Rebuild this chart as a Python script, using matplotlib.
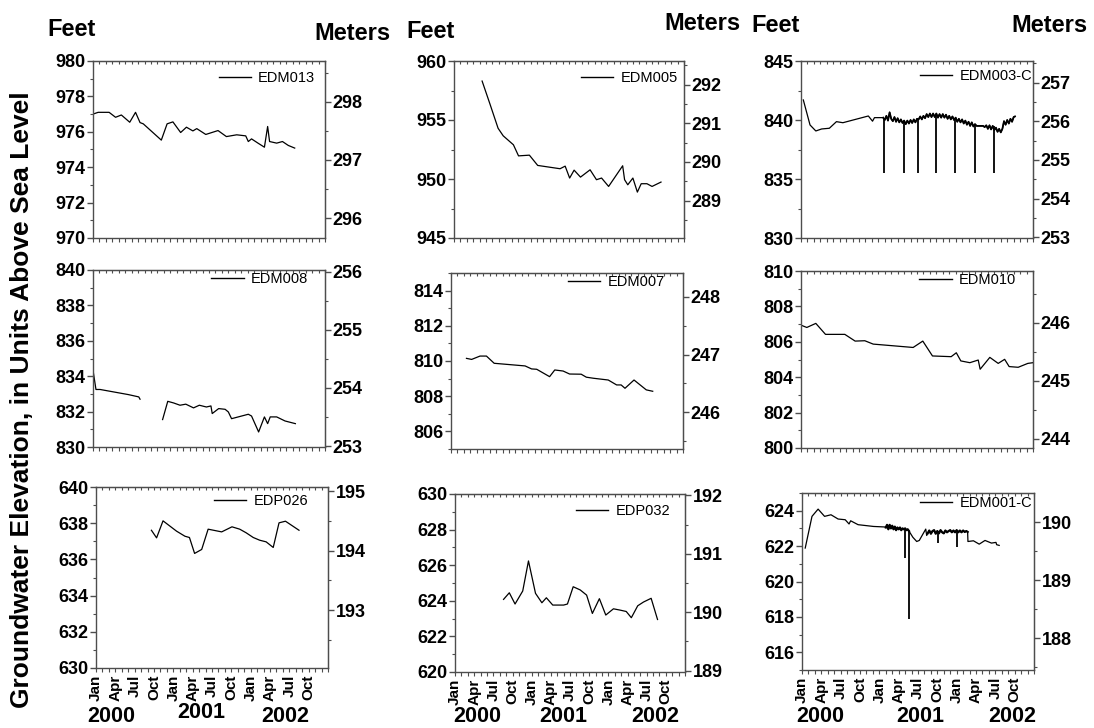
import numpy as np
import matplotlib
matplotlib.use("Agg")
import matplotlib.pyplot as plt
from matplotlib.ticker import MultipleLocator, FixedLocator, NullFormatter
from matplotlib.lines import Line2D

plt.rcParams['font.family'] = ['Liberation Sans', 'DejaVu Sans']
plt.rcParams['font.weight'] = 'bold'

FT_PER_M = 3.28084
nan = np.nan

# time axis: months since Jan 2000
month_names = ['Jan', 'Apr', 'Jul', 'Oct'] * 3
month_pos = list(range(0, 36, 3))
years = ['2000', '2001', '2002']

# ---- EDM013 ----
edm013_t = [0, 0.8, 2.5, 3.5, 4.4, 5.7, 6.6, 7.3, 7.8, 10.6, 11.5, 12.4, 13.6, 14.5, 15.5,
            16.1, 17.5, 19.4, 20.7, 22.3, 23.7, 24.1, 24.6, 25.6, 26.6, 27.1, 27.4, 28.5,
            29.4, 30.3, 31.3]
edm013_ft = [977.0, 977.1, 977.1, 976.82, 976.95, 976.54, 977.1, 976.52, 976.45, 975.53,
             976.45, 976.56, 975.96, 976.26, 976.05, 976.18, 975.85, 976.07, 975.73, 975.83,
             975.77, 975.45, 975.6, 975.36, 975.13, 976.3, 975.45, 975.36, 975.45, 975.23,
             975.08]

# ---- EDM005 ----
edm005_t = [4.4, 5.6, 6.9, 7.7, 9.3, 10.1, 11.8, 13.1, 16.6, 17.4, 18.1, 18.8, 19.8, 21.3,
            22.3, 23.1, 24.2, 26.4, 26.7, 27.2, 28.0, 28.7, 29.3, 30.2, 31.0, 32.4]
edm005_ft = [958.3, 956.4, 954.3, 953.66, 952.9, 951.96, 952.02, 951.15, 950.87, 951.09,
             950.08, 950.75, 950.16, 950.78, 949.94, 950.08, 949.37, 951.12, 949.94, 949.51,
             950.08, 948.89, 949.6, 949.6, 949.37, 949.74]

# ---- EDM003-C (manual readings, then continuous logger) ----
edm003_manual_t = [0.36, 1.4, 2.3, 3.2, 4.4, 5.5, 6.5, 10.45, 11.1, 11.4, 12.5]
edm003_manual_ft = [841.7, 839.58, 839.07, 839.24, 839.3, 839.86, 839.77, 840.34, 839.9,
                    840.2, 840.2]
edm003_logger_t = [12.75, 13.0, 13.25, 13.5, 13.75, 14.0, 14.25, 14.5, 14.75, 15.0, 15.25,
                   15.5, 15.75, 16.0, 16.25, 16.5, 16.75, 17.0, 17.25, 17.5, 17.75, 18.0,
                   18.25, 18.5, 18.75, 19.0, 19.25, 19.5, 19.75, 20.0, 20.25, 20.5, 20.75,
                   21.0, 21.25, 21.5, 21.75, 22.0, 22.25, 22.5, 22.75, 23.0, 23.25, 23.5,
                   23.75, 24.0, 24.25, 24.5, 24.75, 25.0, 25.25, 25.5, 25.75, 26.0, 26.25,
                   26.5, 26.75, 27.0, 27.25, 27.5, 27.75, 28.0, 28.25, 28.5, 28.75, 29.0,
                   29.25, 29.5, 29.75, 30.0, 30.25, 30.5, 30.75, 31.0, 31.25, 31.5, 31.75,
                   32.0, 32.25, 32.5, 32.75, 33.0, 33.2]
edm003_logger_ft = [840.2, 840.0, 840.35, 839.95, 840.65, 840.1, 839.9, 840.25, 839.85, 840.15,
                    839.8, 840.05, 839.75, 839.95, 839.65, 839.95, 839.7, 840.0, 839.75, 840.05,
                    839.8, 840.1, 840.05, 840.3, 840.05, 840.35, 840.15, 840.5, 840.25, 840.55,
                    840.25, 840.55, 840.25, 840.55, 840.2, 840.5, 840.2, 840.5, 840.2, 840.45,
                    840.1, 840.35, 840.05, 840.3, 840.0, 840.2, 839.85, 840.1, 839.8,
                    840.05, 839.7, 839.95, 839.6, 839.85, 839.5, 839.8, 839.45, 839.65, 839.5,
                    839.5, 839.5, 839.5, 839.5, 839.4, 839.55, 839.25, 839.55, 839.2, 839.5,
                    839.15, 839.35, 839.0, 839.25, 838.95, 839.25, 839.9, 839.6, 840.0, 839.7,
                    840.1, 839.85, 840.25, 840.3]
edm003_spike_t = [12.9, 16.0, 18.1, 20.9, 23.9, 27.0, 29.9]
edm003_spike_top = [840.2, 839.9, 840.05, 840.4, 840.2, 839.6, 839.45]
edm003_spike_low = [835.5, 835.5, 835.5, 835.5, 835.5, 835.5, 835.5]

# ---- EDM008 ----
edm008_t = [0, 0.46, 1.1, 5.5, 7.1, 7.3, 9.0, 10.8, 11.6, 12.5, 13.5, 14.4, 15.6, 16.5, 17.6,
            18.3, 18.5, 19.5, 20.5, 21.0, 21.5, 24.1, 24.6, 25.7, 26.6, 27.1, 27.5, 28.5,
            29.8, 31.4]
edm008_ft = [834.34, 833.25, 833.25, 832.96, 832.83, 832.7, nan, 831.55, 832.58, 832.49,
             832.36, 832.42, 832.21, 832.36, 832.26, 832.32, 831.89, 832.17, 832.13, 831.98,
             831.6, 831.85, 831.75, 830.85, 831.7, 831.32, 831.7, 831.7, 831.47, 831.32]

# ---- EDM007 ----
edm007_t = [2.4, 3.2, 4.5, 5.5, 6.7, 11.5, 12.5, 13.3, 15.3, 16.1, 17.4, 18.4, 20.2, 21.0,
            22.1, 24.4, 25.7, 26.4, 27.0, 28.4, 30.3, 31.3]
edm007_ft = [810.15, 810.09, 810.28, 810.28, 809.87, 809.72, 809.55, 809.53, 809.11, 809.49,
             809.43, 809.26, 809.25, 809.08, 809.02, 808.92, 808.64, 808.64, 808.45, 808.92,
             808.36, 808.28]

# ---- EDM010 ----
edm010_t = [0, 0.9, 2.3, 3.8, 6.8, 8.4, 9.9, 11.2, 17.4, 18.9, 20.4, 23.3, 24.1, 24.8, 26.2,
            27.5, 27.8, 29.3, 30.6, 31.6, 32.3, 33.7, 35.2, 36.0]
edm010_ft = [806.94, 806.81, 807.04, 806.42, 806.42, 806.04, 806.06, 805.87, 805.68, 806.04,
             805.2, 805.16, 805.38, 804.92, 804.82, 804.97, 804.45, 805.12, 804.78, 805.01,
             804.6, 804.56, 804.78, 804.82]

# ---- EDP026 ----
edp026_t = [8.6, 9.4, 10.4, 12.5, 13.8, 14.5, 15.3, 16.4, 17.4, 19.5, 21.1, 22.3, 23.3, 24.4,
            25.4, 26.4, 27.5, 28.4, 29.4, 31.5]
edp026_ft = [637.61, 637.19, 638.13, 637.56, 637.28, 637.21, 636.33, 636.55, 637.67, 637.52,
             637.8, 637.67, 637.47, 637.21, 637.06, 636.97, 636.66, 638.02, 638.11, 637.61]

# ---- EDP032 ----
edp032_t = [7.6, 8.5, 9.4, 10.6, 11.5, 12.6, 13.6, 14.3, 15.3, 17.0, 17.6, 18.5, 19.6, 20.6,
            21.5, 22.6, 23.6, 24.8, 25.8, 26.8, 27.6, 28.6, 29.5, 30.7, 31.7]
edp032_ft = [624.08, 624.45, 623.82, 624.55, 626.24, 624.42, 623.89, 624.17, 623.76, 623.76,
             623.82, 624.79, 624.61, 624.32, 623.29, 624.12, 623.2, 623.55, 623.48, 623.4,
             623.05, 623.72, 623.93, 624.14, 622.95]

# ---- EDM001-C ----
edm001_manual_t = [0.5, 1.55, 2.5, 3.5, 4.5, 5.6, 6.7, 7.3, 7.55, 8.7, 11.1, 12.9]
edm001_manual_ft = [621.89, 623.68, 624.09, 623.68, 623.77, 623.53, 623.49, 623.25, 623.43,
                    623.21, 623.11, 623.08]
edm001_logger1_t = [13.0, 13.2, 13.4, 13.6, 13.8, 14.0, 14.2, 14.4, 14.6, 14.8, 15.0, 15.2,
                    15.4, 15.6, 15.8, 16.0, 16.2, 16.4, 16.6]
edm001_logger1_ft = [623.05, 623.2, 622.95, 623.2, 623.0, 623.15, 622.95, 623.1, 622.9,
                     623.05, 622.95, 623.05, 622.9, 623.0, 622.95, 623.0, 622.9, 622.95,
                     622.85]
edm001_mid_t = [17.2, 17.8, 18.2, 18.7, 19.2, 19.35]
edm001_mid_ft = [622.5, 622.26, 622.32, 622.64, 622.96, 622.6]
edm001_logger2_t = [19.5, 19.75, 20.0, 20.25, 20.5, 20.75, 21.0, 21.25, 21.5, 21.75, 22.0,
                    22.25, 22.5, 22.75, 23.0, 23.25, 23.5, 23.75, 24.0, 24.25, 24.5, 24.75,
                    25.0, 25.25, 25.5, 25.7]
edm001_logger2_ft = [622.72, 622.88, 622.7, 622.85, 622.9, 622.7, 622.85, 622.72, 622.9,
                     622.78, 622.72, 622.88, 622.78, 622.85, 622.9, 622.78, 622.88, 622.78,
                     622.9, 622.78, 622.88, 622.78, 622.88, 622.8, 622.85, 622.8]
edm001_end_t = [25.75, 26.6, 27.5, 28.4, 29.4, 30.1, 30.2, 30.6]
edm001_end_ft = [622.26, 622.3, 622.11, 622.32, 622.17, 622.21, 622.08, 622.04]
edm001_spike_t = [16.0, 16.6, 21.1, 24.0]
edm001_spike_top = [623.0, 622.85, 622.8, 622.85]
edm001_spike_low = [621.3, 617.87, 622.2, 621.94]

W, H = 1094, 728
fig = plt.figure(figsize=(W / 100, H / 100), dpi=100)

FRAME = '#4d4d4d'
TICK_FS = 13


def make_axes(box):
    x0, y0, x1, y1 = box
    return fig.add_axes([x0 / W, 1 - y1 / H, (x1 - x0) / W, (y1 - y0) / H])


def style_axes(ax, ylim, ystep, mticks, bottom_labels):
    ax.set_xlim(0, 36)
    ax.set_ylim(*ylim)
    ax.yaxis.set_major_locator(MultipleLocator(ystep))
    ax.yaxis.set_minor_locator(MultipleLocator(ystep / 2))
    ax.tick_params(axis='y', which='major', direction='out', length=4, width=1,
                   color=FRAME, labelsize=TICK_FS, pad=1.5)
    ax.tick_params(axis='y', which='minor', direction='out', length=2.5, width=0.8,
                   color=FRAME)
    for lbl in ax.get_yticklabels():
        lbl.set_fontweight('bold')
    ax.xaxis.set_major_locator(FixedLocator(month_pos))
    ax.xaxis.set_minor_locator(MultipleLocator(1))
    ax.tick_params(axis='x', which='both', direction='out', length=3, width=0.8,
                   color=FRAME, top=False)
    if bottom_labels:
        ax.set_xticklabels(month_names, rotation=90, fontsize=11, fontweight='bold')
        ax.tick_params(axis='x', which='major', pad=2)
    else:
        ax.xaxis.set_major_formatter(NullFormatter())
    for sp in ax.spines.values():
        sp.set_color(FRAME)
        sp.set_linewidth(1.0)
    # inward month ticks on the top edge
    top = ax.secondary_xaxis('top')
    top.xaxis.set_major_locator(MultipleLocator(1))
    top.xaxis.set_major_formatter(NullFormatter())
    top.tick_params(axis='x', which='both', direction='in', length=2.5, width=0.8,
                    color=FRAME)
    top.spines['top'].set_color(FRAME)
    # metres on the right-hand side
    sec = ax.secondary_yaxis('right', functions=(lambda f: f / FT_PER_M,
                                                 lambda m: m * FT_PER_M))
    sec.set_yticks(mticks)
    sec.yaxis.set_minor_locator(MultipleLocator(0.5))
    sec.set_yticklabels([str(m) for m in mticks], fontsize=TICK_FS, fontweight='bold')
    sec.tick_params(axis='y', which='major', direction='out', length=4, width=1,
                    color=FRAME, pad=1.5)
    sec.tick_params(axis='y', which='minor', direction='out', length=2.5, width=0.8,
                    color=FRAME)
    sec.spines['right'].set_color(FRAME)
    return ax


def add_legend(ax, name, xr, dy_px, height_px):
    h = Line2D([], [], color='black', lw=1.0)
    ax.legend([h], [name], loc='center right', bbox_to_anchor=(xr, 1 - dy_px / height_px),
              frameon=False, borderpad=0, borderaxespad=0, handlelength=2.2,
              handletextpad=0.5, prop={'size': 10.5, 'weight': 'normal'})


panels = [
    # box, ylim, ystep, metre ticks, well, legend right, legend dy
    ((93, 61, 325, 238), (970, 980), 2, [296, 297, 298], 'EDM013', 0.957, 17),
    ((454, 61, 684, 238), (945, 960), 5, [289, 290, 291, 292], 'EDM005', 0.974, 17),
    ((801, 61, 1033, 238), (830, 845), 5, [253, 254, 255, 256, 257], 'EDM003-C', 0.997, 15),
    ((93, 270, 325, 447), (830, 840), 2, [253, 254, 255, 256], 'EDM008', 0.927, 9),
    ((451, 273, 683, 449), (805, 815), 2, [246, 247, 248], 'EDM007', 0.922, 9),
    ((801, 271, 1033, 448), (800, 810), 2, [244, 245, 246], 'EDM010', 0.927, 9),
    ((96, 487, 328, 668), (630, 640), 2, [193, 194, 195], 'EDP026', 0.914, 14),
    ((455, 494, 685, 672), (620, 630), 2, [189, 190, 191, 192], 'EDP032', 0.935, 17),
    ((802, 493, 1034, 670), (615, 625), 2, [188, 189, 190], 'EDM001-C', 0.992, 10),
]

axes = []
for i, (box, ylim, ystep, mt, name, xr, dy) in enumerate(panels):
    ax = make_axes(box)
    style_axes(ax, ylim, ystep, mt, bottom_labels=(i >= 6))
    add_legend(ax, name, xr, dy, box[3] - box[1])
    axes.append(ax)

LW = 0.9
axes[0].plot(edm013_t, edm013_ft, color='black', lw=LW)
axes[1].plot(edm005_t, edm005_ft, color='black', lw=LW)

ax = axes[2]
ax.plot(edm003_manual_t + edm003_logger_t, edm003_manual_ft + edm003_logger_ft,
        color='black', lw=LW)
ax.plot(edm003_logger_t, edm003_logger_ft, color='black', lw=1.3)
ax.vlines(edm003_spike_t, edm003_spike_low, edm003_spike_top, color='black', lw=1.3)

axes[3].plot(edm008_t, edm008_ft, color='black', lw=LW)
axes[4].plot(edm007_t, edm007_ft, color='black', lw=LW)
axes[5].plot(edm010_t, edm010_ft, color='black', lw=LW)
axes[6].plot(edp026_t, edp026_ft, color='black', lw=LW)
axes[7].plot(edp032_t, edp032_ft, color='black', lw=LW)

ax = axes[8]
ax.plot(edm001_manual_t + edm001_logger1_t + edm001_mid_t + edm001_logger2_t + edm001_end_t,
        edm001_manual_ft + edm001_logger1_ft + edm001_mid_ft + edm001_logger2_ft + edm001_end_ft,
        color='black', lw=LW)
ax.plot(edm001_logger1_t, edm001_logger1_ft, color='black', lw=1.6)
ax.plot(edm001_logger2_t, edm001_logger2_ft, color='black', lw=1.6)
ax.vlines(edm001_spike_t, edm001_spike_low, edm001_spike_top, color='black', lw=1.3)

# unit headings above the top row
HEAD_FS = 17
for (x, y, s) in [(72, 30, 'Feet'), (352, 34, 'Meters'), (431, 31, 'Feet'),
                  (702, 24, 'Meters'), (776, 25, 'Feet'), (1049, 25, 'Meters')]:
    fig.text(x / W, 1 - y / H, s, ha='center', va='center', fontsize=HEAD_FS,
             fontweight='bold')

# year labels below the bottom row
YEAR_FS = 15.5
year_xy = [[(111, 716), (201, 713), (285, 716)],
           [(477, 717), (563, 717), (655, 716)],
           [(820, 716), (920, 716), (1012, 716)]]
for row in year_xy:
    for (x, y), yr in zip(row, years):
        fig.text(x / W, 1 - y / H, yr, ha='center', va='center', fontsize=YEAR_FS,
                 fontweight='bold')

fig.text(22 / W, 1 - 400 / H, 'Groundwater Elevation, in Units Above Sea Level',
         rotation=90, ha='center', va='center', fontsize=19, fontweight='bold')

fig.savefig('out.png', dpi=100)
